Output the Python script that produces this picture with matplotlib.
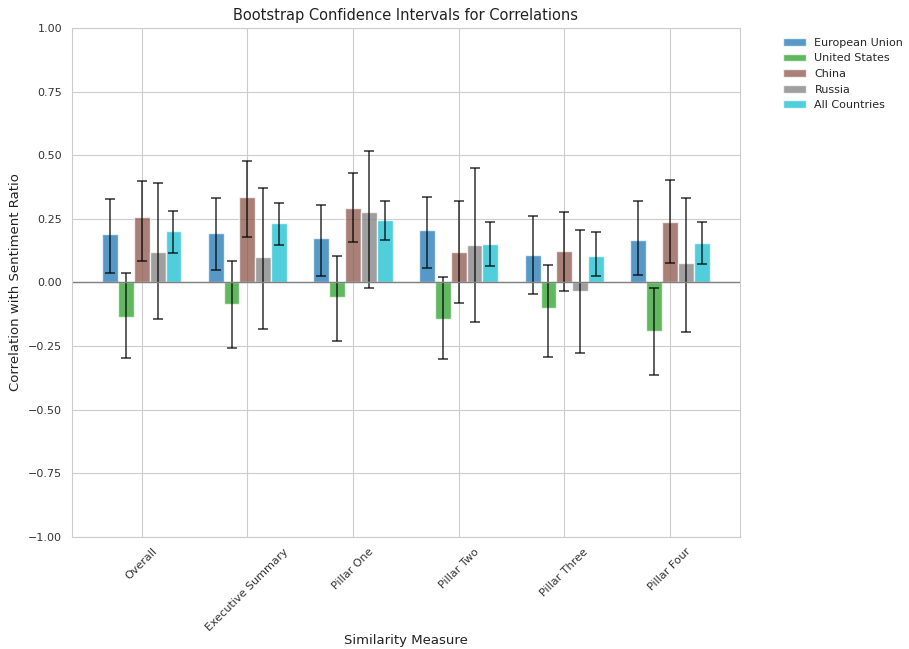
import numpy as np
import matplotlib
matplotlib.use("Agg")
import matplotlib.pyplot as plt
import seaborn as sns

measures = ["Overall", "Executive Summary", "Pillar One", "Pillar Two", "Pillar Three", "Pillar Four"]
groups = ["European Union", "United States", "China", "Russia", "All Countries"]
colors = ["#1f77b4", "#2ca02c", "#8c564b", "#7f7f7f", "#17becf"]

# correlation point estimates, one list per group (order follows measures)
eu = [0.19, 0.193, 0.175, 0.204, 0.109, 0.168]
us = [-0.137, -0.085, -0.058, -0.146, -0.100, -0.193]
china = [0.256, 0.335, 0.293, 0.119, 0.122, 0.239]
russia = [0.119, 0.098, 0.278, 0.145, -0.035, 0.077]
all_c = [0.200, 0.232, 0.243, 0.151, 0.103, 0.154]

# bootstrap CI bounds
eu_lo = [0.037, 0.049, 0.024, 0.057, -0.045, 0.027]
eu_hi = [0.327, 0.331, 0.304, 0.337, 0.260, 0.318]
us_lo = [-0.298, -0.260, -0.230, -0.300, -0.294, -0.363]
us_hi = [0.037, 0.083, 0.105, 0.020, 0.069, -0.022]
china_lo = [0.082, 0.180, 0.158, -0.082, -0.036, 0.077]
china_hi = [0.400, 0.476, 0.431, 0.319, 0.277, 0.401]
russia_lo = [-0.146, -0.185, -0.022, -0.157, -0.277, -0.197]
russia_hi = [0.391, 0.371, 0.515, 0.450, 0.205, 0.331]
all_lo = [0.115, 0.145, 0.167, 0.065, 0.024, 0.073]
all_hi = [0.281, 0.313, 0.321, 0.238, 0.197, 0.236]

values = [eu, us, china, russia, all_c]
lows = [eu_lo, us_lo, china_lo, russia_lo, all_lo]
highs = [eu_hi, us_hi, china_hi, russia_hi, all_hi]

sns.set_style("whitegrid")
plt.rcParams['font.family'] = ['DejaVu Sans']

fig, ax = plt.subplots(figsize=(9.09, 6.49), dpi=100)
fig.subplots_adjust(left=0.079, right=0.814, top=0.957, bottom=0.173)

x = np.arange(len(measures))
width = 0.15
for i, g in enumerate(groups):
    v = np.array(values[i])
    err = [v - np.array(lows[i]), np.array(highs[i]) - v]
    ax.bar(x + (i - 2) * width, v, width, yerr=err, color=colors[i], alpha=0.75,
           label=g, capsize=3.5,
           error_kw=dict(ecolor="black", elinewidth=1.1, capthick=1.1, alpha=0.8))

ax.axhline(0, color="gray", linewidth=1)
ax.set_ylim(-1, 1)
ticks = np.arange(-1, 1.01, 0.25)
ax.set_yticks(ticks)
ax.set_yticklabels([f"{t:.2f}".replace("-", "\u2212") for t in ticks])
ax.set_xticks(x)
ax.set_xticklabels(measures, rotation=45)
ax.tick_params(axis="both", labelsize=8, colors="#333333")
ax.set_xlabel("Similarity Measure", fontsize=9.5, color="#222222", labelpad=1)
ax.set_ylabel("Correlation with Sentiment Ratio", fontsize=9.5, color="#222222")
ax.set_title("Bootstrap Confidence Intervals for Correlations", fontsize=10.5, color="#222222")
ax.legend(bbox_to_anchor=(1.05, 1), loc="upper left", fontsize=8, frameon=False)

fig.savefig("out.png", dpi=100)
